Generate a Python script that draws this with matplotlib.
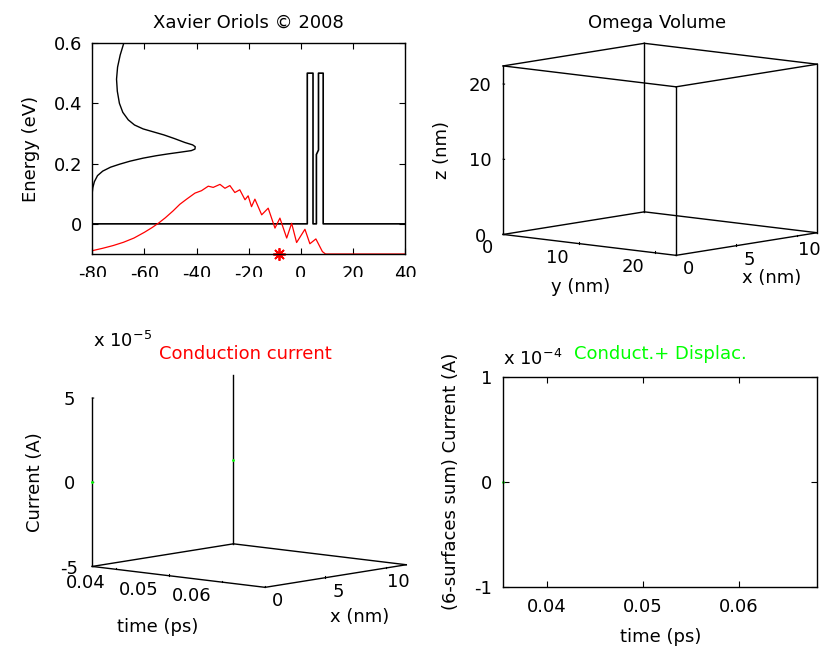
import numpy as np
import matplotlib.pyplot as plt
from matplotlib.ticker import FuncFormatter
from itertools import product

plt.rcParams['font.family'] = 'DejaVu Sans'
plt.rcParams['font.size'] = 13
plt.rcParams['axes.unicode_minus'] = False
plt.rcParams['axes.linewidth'] = 1.0

W, H = 823, 648

# potential profile of the double barrier (eV)
barrier_x = [-80, 2.5, 2.5, 4.7, 4.7, 6.0, 6.0, 6.8, 6.8, 8.6, 8.6, 40]
barrier_e = [0, 0, 0.5, 0.5, 0, 0, 0.23, 0.245, 0.5, 0.5, 0, 0]

# transmission coefficient drawn sideways against energy
trans_e = [0.600, 0.560, 0.520, 0.480, 0.440, 0.400, 0.370, 0.345, 0.328, 0.315,
           0.305, 0.295, 0.283, 0.270, 0.262, 0.256, 0.248, 0.243, 0.238, 0.232,
           0.226, 0.218, 0.208, 0.198, 0.188, 0.175, 0.160, 0.140, 0.120, 0.105]
trans_x = [-67.9, -69.3, -70.3, -70.7, -70.4, -69.6, -68.3, -66.2, -63.8, -60.5,
           -56.5, -52.5, -48.5, -44.5, -41.5, -40.5, -40.6, -42.0, -46.0, -51.0,
           -55.5, -60.5, -65.5, -69.5, -73.0, -76.0, -78.0, -79.2, -79.8, -80.0]

# wave packet probability, shifted down to the -0.1 baseline
packet_x = [-80, -76, -72, -68, -64, -60, -57, -54.5, -52, -49, -46.4, -43.8,
            -40.6, -38.1, -35.5, -33.6, -31.0, -29.1, -27.2, -25.3, -23.4,
            -21.4, -20.2, -18.9, -17.6, -15.0, -12.5, -9.9, -8.0, -5.4, -3.5,
            -1.6, 1.6, 3.5, 5.8, 8.3, 9.5, 40]
packet_e = [-0.089, -0.081, -0.072, -0.061, -0.047, -0.028, -0.012, 0.003, 0.020,
            0.043, 0.065, 0.082, 0.102, 0.110, 0.125, 0.121, 0.131, 0.118, 0.127,
            0.104, 0.113, 0.080, 0.093, 0.057, 0.082, 0.030, 0.052, -0.014, 0.019,
            -0.047, 0.002, -0.062, -0.018, -0.066, -0.050, -0.092, -0.100, -0.100]

# bohmian particle position
particle_x = [-8.4]
particle_e = [-0.1]

# simulation box (nm)
omega_x = [0, 11.7]
omega_y = [0, 22.8]
omega_z = [0, 22.4]

# currents through the box surfaces
time_lim = [0.0355, 0.0682]
surface_x = [0, 11.7]
cond_t = [0.0355, 0.0355]
cond_I = [0.0, 0.0]
total_t = [0.0355]
total_I = [0.0]

ELEV, AZIM = -8.0, -41.0
BOX = (214.7, 228.5, 169.8)


def px_rect(left, top, right, bottom):
    return [left / W, 1 - bottom / H, (right - left) / W, (bottom - top) / H]


def setup3d(fig, cx, cy, size, zoom):
    ax = fig.add_axes(px_rect(cx - size / 2, cy - size / 2, cx + size / 2, cy + size / 2),
                      projection='3d')
    ax.set_proj_type('ortho')
    ax.view_init(elev=ELEV, azim=AZIM)
    ax.set_box_aspect(BOX, zoom=zoom)
    ax.grid(False)
    for axis in (ax.xaxis, ax.yaxis, ax.zaxis):
        axis.set_pane_color((1, 1, 1, 0))
        axis.line.set_color((1, 1, 1, 0))
        axis.set_ticks_position('lower')
        axis.set_label_position('lower')
        axis._axinfo['tick']['inward_factor'] = 0.0
        axis._axinfo['tick']['outward_factor'] = 0.1
    return ax


def align_ticklabels(ax):
    for lbl in ax.get_yticklabels():
        lbl.set_horizontalalignment('right')
        lbl.set_verticalalignment('center')
    for lbl in ax.get_xticklabels():
        lbl.set_verticalalignment('center')
    for lbl in ax.get_zticklabels():
        lbl.set_verticalalignment('center_baseline')


def seg3d(ax, a, b, **kw):
    ax.plot([a[0], b[0]], [a[1], b[1]], [a[2], b[2]], **kw)


fig = plt.figure(figsize=(W / 100, H / 100), dpi=100)

# ---------------- energy profile ----------------
ax1 = fig.add_axes(px_rect(92.3, 43, 405, 254))
ax1.plot(barrier_x, barrier_e, color='k', lw=1.2)
ax1.plot(trans_x, trans_e, color='k', lw=1.0)
ax1.plot(packet_x, packet_e, color='r', lw=0.9)
ax1.plot(particle_x, particle_e, linestyle='none', marker=(8, 2, 0),
         color='r', markersize=9, mew=1.3, clip_on=False)
ax1.set_xlim(-80, 40)
ax1.set_ylim(-0.1, 0.6)
ax1.set_xticks([-80, -60, -40, -20, 0, 20, 40])
ax1.set_yticks([0, 0.2, 0.4, 0.6])
ax1.set_yticklabels(['0', '0.2', '0.4', '0.6'])
ax1.tick_params(direction='in', top=True, right=True, length=4)
ax1.tick_params(axis='x', pad=8)
ax1.tick_params(axis='y', pad=7)
ax1.set_xlabel('x (nm)', labelpad=7)
ax1.set_ylabel('Energy (eV)', labelpad=10)
ax1.set_title('Xavier Oriols \u00a9 2008', fontsize=13, pad=11)

# ---------------- omega volume ----------------
ax2 = setup3d(fig, 654.5, 155.0, 420, 0.826)
corners = list(product(omega_x, omega_y, omega_z))
for a in corners:
    for b in corners:
        if a < b and sum(u != v for u, v in zip(a, b)) == 1:
            seg3d(ax2, a, b, color='k', lw=1.0)
ax2.set_xlim(*omega_x)
ax2.set_ylim(*omega_y)
ax2.set_zlim(*omega_z)
ax2.set_xticks([0, 5, 10])
ax2.set_yticks([0, 10, 20])
ax2.set_zticks([0, 10, 20])
align_ticklabels(ax2)
ax2.set_zlabel('z (nm)', labelpad=9.5)
fig.text(656.7 / W, 1 - 28 / H, 'Omega Volume', ha='center', va='baseline', fontsize=13)
fig.text(580.8 / W, 1 - 287 / H, 'y (nm)', ha='center', va='center', fontsize=13)
fig.text(771.7 / W, 1 - 278 / H, 'x (nm)', ha='center', va='center', fontsize=13)

# ---------------- conduction current ----------------
ax3 = setup3d(fig, 243.6, 487.0, 420, 0.826)
zlim3 = [-5e-5, 5e-5]
t0, t1 = time_lim
x0, x1 = surface_x
for a, b in [((x0, t0), (x1, t0)), ((x1, t0), (x1, t1)),
             ((x1, t1), (x0, t1)), ((x0, t1), (x0, t0))]:
    seg3d(ax3, (a[0], a[1], zlim3[0]), (b[0], b[1], zlim3[0]), color='k', lw=1.0)
for xs in surface_x:
    seg3d(ax3, (xs, t0, zlim3[0]), (xs, t0, zlim3[1]), color='k', lw=1.0)
ax3.plot(surface_x, cond_t, cond_I, linestyle='none', marker='.', color='#00ff00',
         markersize=2)
ax3.set_xlim(*surface_x)
ax3.set_ylim(*time_lim)
ax3.set_zlim(*zlim3)
ax3.set_xticks([0, 5, 10])
ax3.set_yticks([0.04, 0.05, 0.06])
ax3.set_yticklabels(['0.04', '0.05', '0.06'])
ax3.set_zticks([-5e-5, 0, 5e-5])
ax3.zaxis.set_major_formatter(FuncFormatter(lambda v, p: f'{v / 1e-5:g}'))
align_ticklabels(ax3)
ax3.set_zlabel('Current (A)', labelpad=7.5)
fig.text(245.7 / W, 1 - 359 / H, 'Conduction current', color='r', ha='center',
         va='baseline', fontsize=13)
fig.text(93 / W, 1 - 346.7 / H, 'x 10$^{-5}$', ha='left', va='baseline', fontsize=13)
fig.text(157.5 / W, 1 - 627 / H, 'time (ps)', ha='center', va='center', fontsize=13)
fig.text(360 / W, 1 - 616.5 / H, 'x (nm)', ha='center', va='center', fontsize=13)

# ---------------- total current ----------------
ax4 = fig.add_axes(px_rect(503.3, 376.7, 817.3, 586.7))
ax4.plot(total_t, total_I, linestyle='none', marker='.', color='#00ff00',
         markersize=2, clip_on=False)
ax4.set_xlim(*time_lim)
ax4.set_ylim(-1e-4, 1e-4)
ax4.set_xticks([0.04, 0.05, 0.06])
ax4.set_xticklabels(['0.04', '0.05', '0.06'])
ax4.set_yticks([-1e-4, 0, 1e-4])
ax4.yaxis.set_major_formatter(FuncFormatter(lambda v, p: f'{v / 1e-4:g}'))
ax4.tick_params(direction='in', top=True, right=True, length=4)
ax4.tick_params(axis='x', pad=8)
ax4.tick_params(axis='y', pad=8)
ax4.set_xlabel('time (ps)', labelpad=9)
ax4.set_ylabel('(6-surfaces sum) Current (A)', labelpad=10)
ax4.set_title('Conduct.+ Displac.', color='#00ff00', fontsize=13, pad=13)
ax4.text(0.0, 1.055, 'x 10$^{-4}$', transform=ax4.transAxes, ha='left',
         va='baseline', fontsize=13)

fig.savefig('out.png', dpi=100)
